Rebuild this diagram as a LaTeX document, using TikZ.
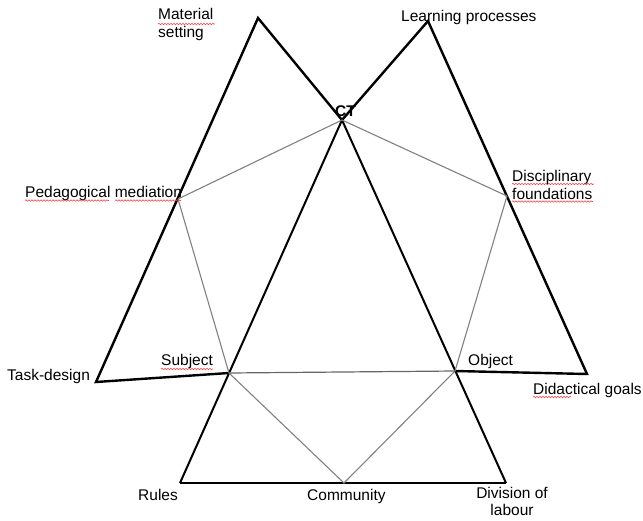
\documentclass[tikz,border=0pt]{standalone}
\usepackage{fontspec}
\setmainfont{Liberation Sans}
\usetikzlibrary{decorations.pathmorphing}

\begin{document}
\begin{tikzpicture}[x=1pt, y=-1pt,
      outer/.style={line width=2.4pt, line join=miter},
      side/.style={line width=2pt},
      link/.style={line width=1.1pt, draw=black!50},
      base/.style={line width=1.2pt, draw=black!60},
      lbl/.style={font=\fontsize{15.5}{18}\selectfont, inner sep=0pt},
      squiggle/.style={draw=red!75!white, line width=0.6pt, decorate,
        decoration={snake, amplitude=0.7pt, segment length=3pt}}
  ]
  \useasboundingbox (0,0) rectangle (643,520);

  % Corners
  \coordinate (ct) at (342,120);
  \coordinate (mat) at (258,18);
  \coordinate (learn) at (428,21);
  \coordinate (ped) at (178,199);
  \coordinate (disc) at (507,196);
  \coordinate (task) at (96,382);
  \coordinate (goals) at (587,374);
  \coordinate (subj) at (229,373);
  \coordinate (obj) at (455,371);
  \coordinate (rules) at (180,483);
  \coordinate (comm) at (344,483);
  \coordinate (div) at (506,483);

  % Triangles
  \draw[outer] (ct) -- (mat) -- (task) -- (subj);
  \draw[outer] (ct) -- (learn) -- (goals) -- (obj);
  \draw[side] (ct) -- (rules);
  \draw[side] (ct) -- (div);
  \draw[outer] (rules) -- (div);

  % Inner links
  \draw[link] (ped) -- (ct) -- (disc);
  \draw[link] (ped) -- (subj);
  \draw[link] (disc) -- (obj);
  \draw[link] (subj) -- (comm) -- (obj);
  \draw[base] (subj) -- (obj);

  % Labels
  \node[lbl, anchor=north west, align=left] (matlbl) at (158,8) {Material\\setting};
  \node[lbl, anchor=base west] (learnlbl) at (401,21) {Learning processes};
  \node[lbl, anchor=base west, font=\fontsize{15.5}{18}\selectfont\bfseries] (ctlbl) at (335,116) {CT};
  \node[lbl, anchor=base west] (pedlbl) at (25,197) {Pedagogical mediation};
  \node[lbl, anchor=north west, align=left] (disclbl) at (512,170) {Disciplinary\\foundations};
  \node[lbl, anchor=base west] (tasklbl) at (7,380) {Task-design};
  \node[lbl, anchor=base west] (subjlbl) at (161,365) {Subject};
  \node[lbl, anchor=base west] (objlbl) at (468,365) {Object};
  \node[lbl, anchor=base west] (goalslbl) at (533,394) {Didactical goals};
  \node[lbl, anchor=base west] (ruleslbl) at (138,500) {Rules};
  \node[lbl, anchor=base west] (commlbl) at (307,500) {Community};
  \node[lbl, anchor=north, align=center] (divlbl) at (512,487) {Division of\\[-1pt]labour};

  % spell-check marks
  \draw[squiggle] (158,24) -- (215,24);
  \draw[squiggle] (25,200.5) -- (109,200.5);
  \draw[squiggle] (115,200.5) -- (181,200.5);
  \draw[squiggle] (512,184) -- (594,184);
  \draw[squiggle] (512,201.5) -- (593,201.5);
  \draw[squiggle] (161,369) -- (213,369);
  \draw[squiggle] (533,397) -- (571,397);

\end{tikzpicture}
\end{document}
